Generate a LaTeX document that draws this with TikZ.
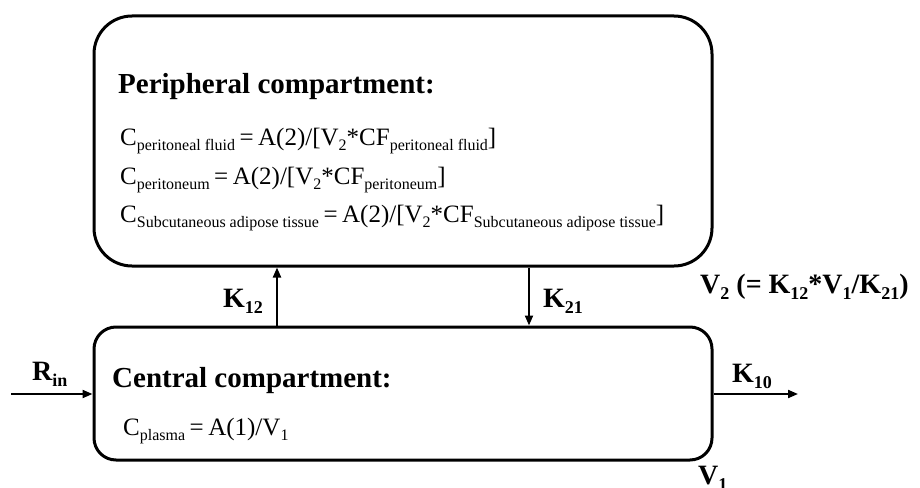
\documentclass[tikz,border=0pt]{standalone}
\usepackage{fontspec}
\setmainfont{Liberation Serif}
\usetikzlibrary{arrows.meta,calc}

% lowered subscript: [size]{text}
\newcommand\lsub[2][16]{\raisebox{-5pt}{\fontsize{#1}{#1}\selectfont #2}}
\newcommand\bsub[1]{\raisebox{-6pt}{\fontsize{18}{18}\selectfont\bfseries #1}}
% equals sign with tight spacing
\newcommand\eqs{\hspace{0.18em}=\hspace{0.18em}}

\tikzset{
  compbox/.style={draw, line width=3pt, inner sep=0pt},
  flow/.style={line width=2pt, -{Triangle[length=10pt,width=8pt]}},
  txt/.style={anchor=base west, inner sep=0pt},
  eqn/.style={txt, font=\fontsize{25}{30}\selectfont},
  ttl/.style={txt, font=\bfseries\fontsize{29}{34}\selectfont},
  lbl/.style={txt, font=\bfseries\fontsize{28}{32}\selectfont}
}

\begin{document}
\begin{tikzpicture}[x=1pt,y=-1pt]
\useasboundingbox (0,0) rectangle (920,487);

% compartments
\node[compbox, rounded corners=38pt, minimum width=618pt, minimum height=250pt] (periph) at (403,141) {};
\node[compbox, rounded corners=22pt, minimum width=618pt, minimum height=133pt] (central) at (403,393.5) {};

% peripheral compartment text
\node[ttl] (ptitle) at (118,93) {Peripheral compartment:};
\node[eqn] (eq1) at (120,145) {C\lsub{peritoneal fluid}\eqs A(2)/[V\lsub{2}*CF\lsub{peritoneal fluid}]};
\node[eqn] (eq2) at (120,184) {C\lsub{peritoneum}\eqs A(2)/[V\lsub{2}*CF\lsub{peritoneum}]};
\node[eqn] (eq3) at (120,222) {C\lsub{Subcutaneous adipose tissue}\eqs A(2)/[V\lsub{2}*CF\lsub{Subcutaneous adipose tissue}]};

% central compartment text
\node[ttl] (ctitle) at (112,387) {Central compartment:};
\node[eqn] (eq4) at (123,435) {C\lsub{plasma}\eqs A(1)/V\lsub{1}};

% transfer arrows
\coordinate (k12x) at (277,0);
\coordinate (k21x) at (529,0);
\draw[flow] (k12x |- central.north) -- (k12x |- periph.south);
\draw[flow] (k21x |- periph.south) -- (k21x |- central.north);

% input and elimination
\coordinate (inlet) at (11,394);
\coordinate (outlet) at (798,394);
\draw[flow] (inlet) -- (inlet -| central.west);
\draw[flow] (outlet -| central.east) -- (outlet);

% labels
\node[lbl] (k12) at (223,307) {K\bsub{12}};
\node[lbl] (k21) at (543,307) {K\bsub{21}};
\node[lbl] (rin) at (32,380) {R\bsub{in}};
\node[lbl] (k10) at (732,382) {K\bsub{10}};
\node[lbl] (v2) at (700,293) {V\bsub{2} (= K\bsub{12}*V\bsub{1}/K\bsub{21})};
\node[lbl] (v1) at (698,484) {V\bsub{1}};
\end{tikzpicture}
\end{document}
